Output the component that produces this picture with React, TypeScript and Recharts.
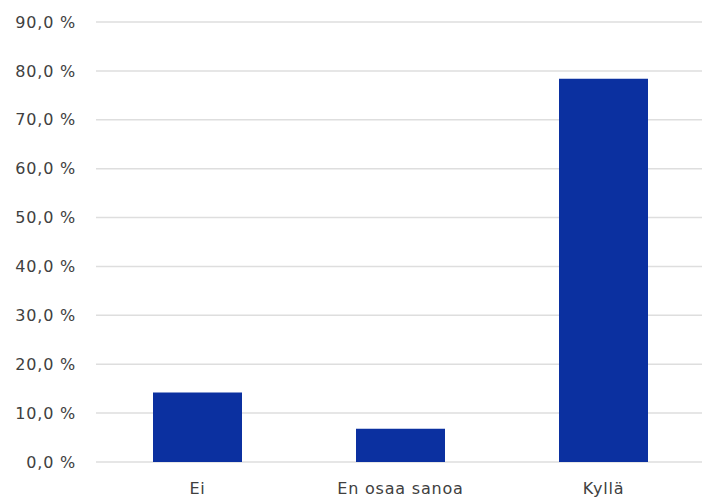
import React from 'react';
import { BarChart, Bar, XAxis, YAxis, CartesianGrid } from 'recharts';

// Vastausten osuudet (%)
const categories = ['Ei', 'En osaa sanoa', 'Kyllä'];
const shares = [14.2, 6.8, 78.4];
const yTicks = [0, 10, 20, 30, 40, 50, 60, 70, 80, 90];

const data = categories.map((name, i) => ({ name, share: shares[i] }));

const fmtPct = (v: number) => `${v.toFixed(1).replace('.', ',')} %`;

const tickStyle = {
    fontFamily: '"DejaVu Sans", sans-serif',
    fontSize: 16,
    letterSpacing: 0.8,
    fill: '#404040',
};

export default function App() {
    return (
        <div style={{ position: 'fixed', left: 0, top: 0, width: 702, height: 499, overflow: 'hidden', background: '#fff' }}>
            <BarChart
                width={710}
                height={499}
                data={data}
                margin={{ top: 22, right: 5, left: 0, bottom: 7 }}
                barCategoryGap={57}
            >
                <CartesianGrid vertical={false} stroke="#dedede" strokeWidth={1.5} />
                <XAxis
                    dataKey="name"
                    axisLine={false}
                    tickLine={false}
                    tickSize={0}
                    tickMargin={21}
                    height={30}
                    tick={tickStyle}
                    interval={0}
                />
                <YAxis
                    width={96}
                    domain={[0, 90]}
                    ticks={yTicks}
                    tickFormatter={fmtPct}
                    axisLine={false}
                    tickLine={false}
                    tickSize={0}
                    tickMargin={20}
                    tick={tickStyle}
                />
                <Bar dataKey="share" fill="#0b30a0" barSize={89} isAnimationActive={false} />
            </BarChart>
        </div>
    );
}
